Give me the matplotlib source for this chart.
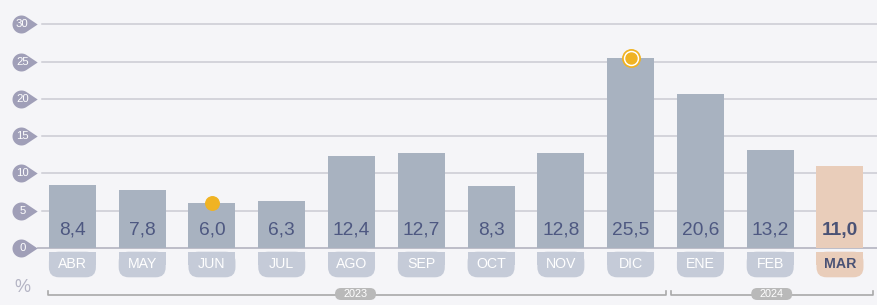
import matplotlib
matplotlib.use("Agg")
import matplotlib.pyplot as plt
from matplotlib.patches import FancyBboxPatch, Rectangle
from matplotlib.path import Path
import numpy as np

months = ["ABR", "MAY", "JUN", "JUL", "AGO", "SEP", "OCT", "NOV", "DIC", "ENE", "FEB", "MAR"]
values = [8.4, 7.8, 6.0, 6.3, 12.4, 12.7, 8.3, 12.8, 25.5, 20.6, 13.2, 11.0]
value_labels = ["8,4", "7,8", "6,0", "6,3", "12,4", "12,7", "8,3", "12,8", "25,5", "20,6", "13,2", "11,0"]
yticks = [0, 5, 10, 15, 20, 25, 30]
years = ["2023", "2024"]
dot_month = "JUN"
ring_month = "DIC"
highlight_month = "MAR"

W, H = 878, 305
fig = plt.figure(figsize=(W / 100, H / 100), dpi=100)
bg = "#f5f5f8"
fig.patch.set_facecolor(bg)
ax = fig.add_axes([0, 0, 1, 1])
ax.set_facecolor(bg)
for s in ax.spines.values():
    s.set_visible(False)
ax.set_xticks([])
ax.set_yticks([])

# pixel mapping
x0px, dxpx = 72.4, 69.78
y0px, dypx = 248.0, 7.457
ax.set_xlim(-x0px / dxpx, 11 + (W - x0px - 11 * dxpx) / dxpx)
ax.set_ylim(-(H - y0px) / dypx, y0px / dypx)
aspect = dxpx / dypx

def px_x(p):
    return (p - x0px) / dxpx

def px_y(p):
    return -(p - y0px) / dypx

font = "Liberation Sans"
bar_col = "#a8b2c0"
hl_col = "#e9cdba"
tab_col = "#c5cbd8"
txt_col = "#4e5881"
tick_col = "#a09fb8"
grid_col = "#cbcbd3"
yellow = "#f0b323"

# gridlines
for t in yticks:
    if t == 0:
        ax.plot([px_x(38), px_x(W)], [0, 0], color="#b9b9c4", lw=1.3, zorder=1)
    else:
        ax.plot([px_x(42), px_x(W)], [t, t], color=grid_col, lw=1.1, zorder=1)

# teardrop tick markers
tip = 1.8
a0 = np.arccos(1 / tip)
ang = np.linspace(a0, 2 * np.pi - a0, 50)
verts = [(np.cos(a), np.sin(a)) for a in ang] + [(tip, 0.0)]
verts.append(verts[0])
codes = [Path.MOVETO] + [Path.LINETO] * (len(verts) - 2) + [Path.CLOSEPOLY]
drop = Path(verts, codes)
cx_px = 21.5
rad_px = 9.0
for t in yticks:
    ax.plot([px_x(cx_px)], [t], marker=drop,
            markersize=2 * tip * rad_px * 0.72,
            color=tick_col, mec="none", zorder=3, clip_on=False)
    ax.text(px_x(cx_px + 0.8), t, str(t), color="white", fontsize=8.2, family=font,
            ha="center", va="center", zorder=4)

x = np.arange(len(months))
bw = 47 / dxpx
colors = [hl_col if m == highlight_month else bar_col for m in months]
ax.bar(x, values, width=bw, color=colors, zorder=2)

for i, (m, lab) in enumerate(zip(months, value_labels)):
    hl = m == highlight_month
    ax.text(i, px_y(230), lab, ha="center", va="center", fontsize=13.8,
            family=font, color="#4a5275" if hl else txt_col,
            fontweight="bold" if hl else "normal", zorder=5)
    # tab
    top = px_y(251.7)
    bot = px_y(277.3)
    fc = hl_col if hl else tab_col
    r = 10 / dxpx
    ax.add_patch(FancyBboxPatch((i - bw / 2, bot), bw, top - bot,
                                boxstyle=f"round,pad=0,rounding_size={r}",
                                mutation_aspect=aspect, fc=fc, ec="none", zorder=2))
    ax.add_patch(Rectangle((i - bw / 2, (top + bot) / 2), bw, (top - bot) / 2,
                           fc=fc, ec="none", zorder=2))
    ax.text(i, px_y(264.5), m, ha="center", va="center", fontsize=10.2, family=font,
            color="#4a5275" if hl else "white",
            fontweight="bold" if hl else "normal", zorder=5)

# markers
di = months.index(dot_month)
ax.scatter([di], [values[di]], s=(13.5 * 0.72) ** 2, color=yellow, zorder=6)
ri = months.index(ring_month)
ax.scatter([ri], [values[ri]], s=(17.5 * 0.72) ** 2, color=yellow, zorder=6)
ax.scatter([ri], [values[ri]], s=(14 * 0.72) ** 2, color="white", zorder=7)
ax.scatter([ri], [values[ri]], s=(11 * 0.72) ** 2, color=yellow, zorder=8)

# percent sign
ax.text(px_x(22), px_y(288), "%", ha="center", va="center", fontsize=13,
        family=font, color="#b4b4c4")

# year brackets
ly = px_y(295)
ty = px_y(291)
bracket_px = [(47.7, 666.0), (670.7, 873.3)]
pill_px = [355.5, 771.7]
for (a, b), yr, cpx in zip(bracket_px, years, pill_px):
    xa, xb = px_x(a), px_x(b)
    ax.plot([xa, xa, xb, xb], [ty, ly, ly, ty], color="#a9a9a9", lw=1.2, zorder=2)
    pw = 41 / dxpx
    ph = 12 / dypx
    cxd = px_x(cpx)
    cyd = px_y(294)
    ax.add_patch(FancyBboxPatch((cxd - pw / 2, cyd - ph / 2), pw, ph,
                                boxstyle=f"round,pad=0,rounding_size={6 / dxpx}",
                                mutation_aspect=aspect, fc="#b9b9b9", ec="none", zorder=3))
    ax.text(cxd, cyd, yr, ha="center", va="center", fontsize=7.8, family=font,
            color="white", zorder=4)

fig.savefig("out.png", dpi=100, facecolor=bg)
